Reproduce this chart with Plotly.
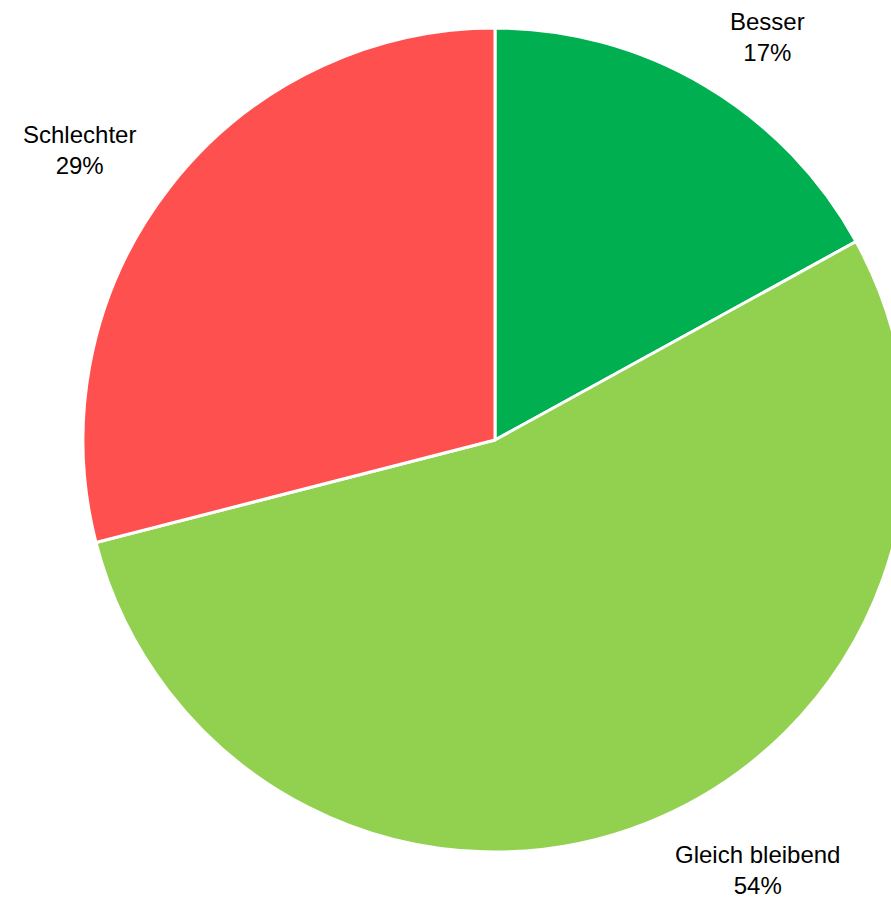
import plotly.graph_objects as go

categories = ["Besser", "Gleich bleibend", "Schlechter"]
values = [17, 54, 29]
colors = ["#00B050", "#92D050", "#FF5050"]

fig = go.Figure(go.Pie(
    labels=categories,
    values=values,
    sort=False,
    direction="clockwise",
    rotation=0,
    textinfo="none",
    hoverinfo="label+percent",
    marker=dict(colors=colors, line=dict(color="white", width=3)),
    showlegend=False,
    domain=dict(x=[0, 1], y=[0, 1]),
))

# figure geometry (pixels)
W, H = 907, 901
ML, MR, MT, MB = 83, 0, 28, 49
PW, PH = W - ML - MR, H - MT - MB

label_pos = {"Besser": (767, 37), "Gleich bleibend": (757, 870), "Schlechter": (79, 150)}
for c, v in zip(categories, values):
    x, y = label_pos[c]
    fig.add_annotation(
        x=(x - ML) / PW, y=1 - (y - MT) / PH, xref="paper", yref="paper",
        text=f"{c}<br>{v}%", showarrow=False,
        font=dict(family="Liberation Sans, Arial, sans-serif", size=24, color="black"),
        xanchor="center", yanchor="middle", align="center",
    )

fig.update_layout(
    width=W, height=H, autosize=False,
    margin=dict(l=ML, r=MR, t=MT, b=MB),
    paper_bgcolor="white",
    plot_bgcolor="white",
)
fig.write_html(
    "out.html",
    config={"displayModeBar": False},
    post_script="document.documentElement.style.overflow='hidden';document.body.style.margin='0';document.body.style.overflow='hidden';",
)
